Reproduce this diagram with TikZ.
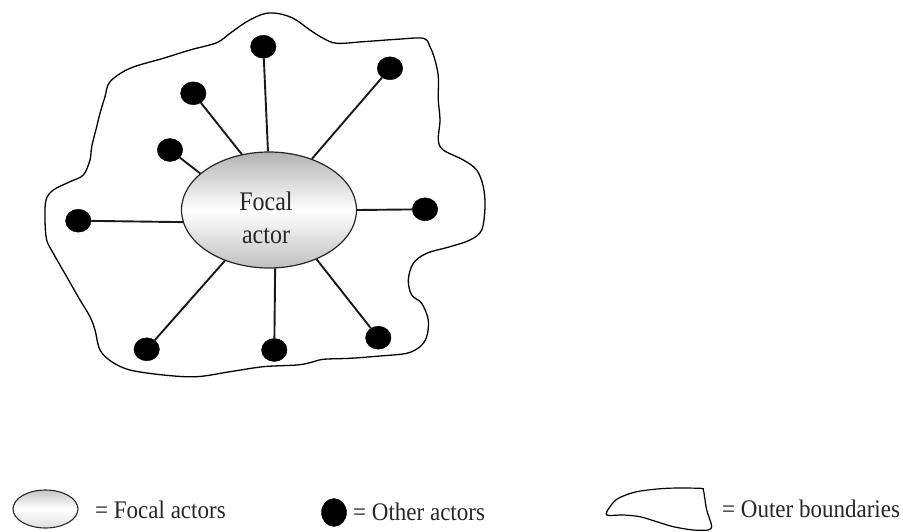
\documentclass[tikz,border=0pt]{standalone}
\usepackage{fontspec}
\usepackage{graphicx}
\setmainfont{Liberation Serif}
\usetikzlibrary{shapes.geometric}
\newcommand{\tallertext}[2][1.1]{\scalebox{1}[#1]{#2}}
\begin{document}
\begin{tikzpicture}[x=1pt,y=-1pt,
  focalstyle/.style={ellipse, draw=black!85, line width=1.2pt, top color=gray!60, bottom color=gray!50, middle color=white, inner sep=0pt},
  actor/.style={ellipse, fill=black, draw=black, minimum width=25.5pt, minimum height=23pt, inner sep=0pt},
  tie/.style={line width=1.9pt, black!90},
  boundary/.style={line width=1.3pt, black},
  txt/.style={font=\fontsize{23}{29.5}\selectfont, text=black!85, inner sep=0pt},
]
\useasboundingbox (0,0) rectangle (903,531);

% outer boundary
\draw[boundary] plot[smooth cycle, tension=0.55] coordinates {
 (110,81.7) (130,68.3) (163.3,58.3) (190,50) (216.7,42.7) (230,33.3) (246.7,21.7)
 (263.3,14) (276.7,13.3) (293.3,18.3) (310,30) (323.3,38.3) (336.7,43.3) (363.3,41.7)
 (396.7,39.3) (423.3,38.3) (430,46.7) (435,60) (438.3,76.7) (438.3,100) (440,120)
 (438.3,140) (443.3,150) (463.3,160) (476.7,170) (483.3,186.7) (485,206.7) (481.7,230)
 (470,240) (450,246.7) (426.7,253.3) (413.3,263.3) (408.3,280) (411.7,295) (421.7,303.3)
 (428.3,320) (426.7,336.7) (420,346.7) (406.7,353.3) (380,356) (350,358.3) (323.3,359.3)
 (310,362.7) (296.7,365) (263.3,366.7) (230,371.7) (196.7,376.7) (163.3,375) (130,370)
 (111.7,361.7) (100,350) (95,330) (90,316.7) (80,300) (66.7,276.7) (53.3,253.3)
 (46.7,240) (45,220) (46,200) (53.3,190) (70,181.7) (83.3,175) (90,160) (91.7,146.7)
 (96.7,126.7) (100,113.3) (105,96.7)};

% focal actor
\node[focalstyle, minimum width=175pt, minimum height=116pt] (focal) at (269,210) {};
\node[txt, font=\fontsize{24}{29.5}\selectfont] (focaltext) at (266,220)
  {\tallertext[1.12]{\begin{tabular}{@{}c@{}}Focal\\actor\end{tabular}}};

% other actors
\node[actor] (d1) at (263.3,46.7) {};
\node[actor] (d2) at (390,68.3) {};
\node[actor] (d3) at (193.3,93.3) {};
\node[actor] (d4) at (170,150) {};
\node[actor] (d5) at (78.3,220.7) {};
\node[actor] (d6) at (425,209.3) {};
\node[actor] (d7) at (146.7,349.3) {};
\node[actor] (d8) at (274.3,350) {};
\node[actor] (d9) at (378.3,337.7) {};

% ties
\draw[tie] (d1) -- (focal.91);
\draw[tie] (d2) -- (focal.50);
\draw[tie] (d3) -- (focal.116);
\draw[tie] (d4) -- (focal.152);
\draw[tie] (d5) -- (focal.188);
\draw[tie] (d6) -- (focal.0);
\draw[tie] (d7) -- (focal.229);
\draw[tie] (d8) -- (focal.276);
\draw[tie] (d9) -- (focal.314);

% legend
\node[focalstyle, line width=1.1pt, top color=gray!45, bottom color=gray!25, middle color=white, minimum width=65pt, minimum height=38pt] (legfocal) at (45.5,509) {};
\node[txt, anchor=base west] (legfocaltxt) at (95,518) {\tallertext{= Focal actors}};
\node[actor, minimum width=25pt, minimum height=28pt] (legdot) at (334,512.5) {};
\node[txt, anchor=base west] (legdottxt) at (353,520) {\tallertext{= Other actors}};
\draw[boundary, line width=1.2pt] plot[smooth cycle, tension=0.5] coordinates {
 (606.7,515) (610,506.7) (618.3,498.3) (636.7,491.7) (666.7,488.3) (700,488.3) (703.3,490)
 (705,500) (706.7,510) (710,520) (711.7,526.7) (708.3,530) (693.3,530) (673.3,526.7)
 (656.7,521.7) (640,516.7) (623.3,515)};
\node[txt, anchor=base west] (legboundtxt) at (722,517) {\tallertext{= Outer boundaries}};
\end{tikzpicture}
\end{document}
